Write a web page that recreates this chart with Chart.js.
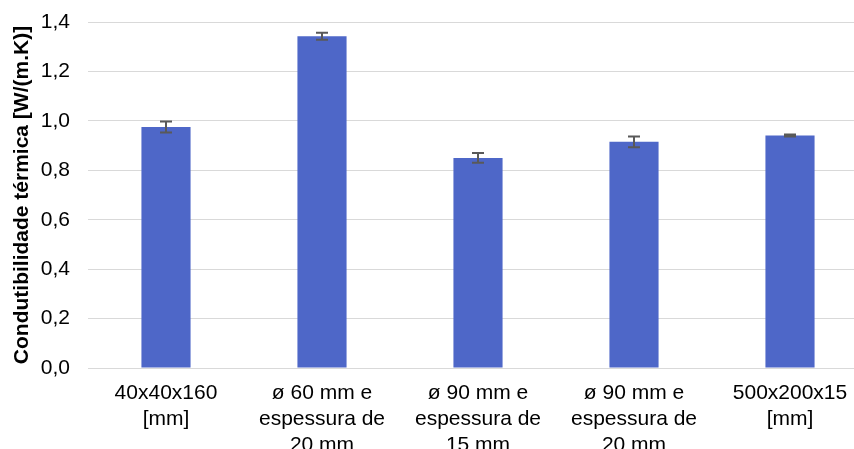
<!DOCTYPE html>
<html>
<head>
<meta charset="utf-8">
<script src="https://cdn.jsdelivr.net/npm/chart.js@4"></script>
<style>
  html, body { margin: 0; padding: 0; background: #fff; overflow: hidden; }
  #wrap { width: 868px; height: 449px; }
</style>
</head>
<body>
<div id="wrap"><canvas id="chart"></canvas></div>
<script>
const labels = [
    ["40x40x160", "[mm]"],
    ["ø 60 mm e", "espessura de", "20 mm"],
    ["ø 90 mm e", "espessura de", "15 mm"],
    ["ø 90 mm e", "espessura de", "20 mm"],
    ["500x200x15", "[mm]"]
];
const values = [0.975, 1.342, 0.850, 0.915, 0.941];
const errors = [0.022, 0.014, 0.020, 0.022, 0.004];

// simple error bars drawn on top of the bars
const errorBars = {
    id: "errorBars",
    afterDatasetsDraw(chart) {
        const ctx = chart.ctx;
        const y = chart.scales.y;
        const meta = chart.getDatasetMeta(0);
        ctx.save();
        ctx.strokeStyle = "#595959";
        ctx.lineWidth = 2;
        meta.data.forEach((bar, i) => {
            const top = y.getPixelForValue(values[i] + errors[i]);
            const bot = y.getPixelForValue(values[i] - errors[i]);
            ctx.beginPath();
            ctx.moveTo(bar.x, top);
            ctx.lineTo(bar.x, bot);
            ctx.moveTo(bar.x - 6, top);
            ctx.lineTo(bar.x + 6, top);
            ctx.moveTo(bar.x - 6, bot);
            ctx.lineTo(bar.x + 6, bot);
            ctx.stroke();
        });
        ctx.restore();
    }
};

const ctx = document.getElementById("chart").getContext("2d");

new Chart(ctx, {
    type: "bar",
    data: {
        labels: labels,
        datasets: [{
            data: values,
            backgroundColor: "#4e67c8",
            barPercentage: 0.63,
            categoryPercentage: 0.5
        }]
    },
    options: {
        responsive: true,
        maintainAspectRatio: false,
        animation: false,
        layout: { autoPadding: false, padding: { left: 0, right: 0, top: 22, bottom: 0 } },
        plugins: {
            legend: { display: false },
            tooltip: { enabled: false }
        },
        scales: {
            x: {
                grid: { display: false, drawTicks: false },
                border: { color: "#d9d9d9", width: 1 },
                ticks: {
                    color: "#000",
                    font: { family: "Liberation Sans, Arial", size: 21, lineHeight: 1.24 },
                    padding: 12,
                    maxRotation: 0,
                    autoSkip: false
                },
                afterFit(scale) { scale.height = 81; }
            },
            y: {
                min: 0,
                max: 1.4,
                ticks: {
                    stepSize: 0.2,
                    color: "#000",
                    padding: 0,
                    font: { family: "Liberation Sans, Arial", size: 21 },
                    callback: v => v.toFixed(1).replace(".", ",")
                },
                grid: { color: "#d9d9d9", drawTicks: true, tickLength: 18, tickColor: "rgba(0,0,0,0)" },
                border: { display: false },
                title: {
                    display: true,
                    text: "Condutibilidade térmica [W/(m.K)]",
                    color: "#000",
                    font: { family: "Liberation Sans, Arial", size: 21, weight: "bold" },
                    padding: { top: 10, bottom: 6 }
                },
                afterFit(scale) { scale.width = 88; }
            }
        }
    },
    plugins: [errorBars]
});
</script>
</body>
</html>
